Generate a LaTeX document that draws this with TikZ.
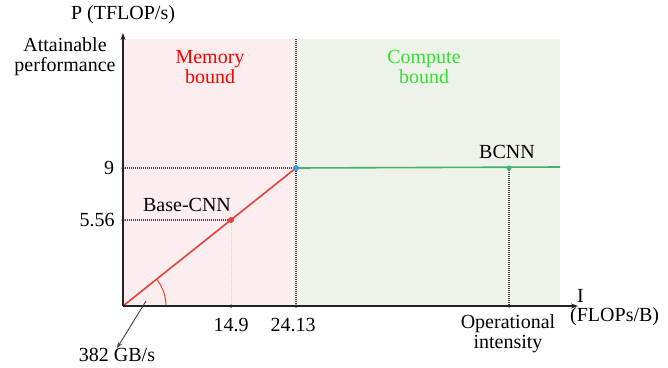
\documentclass[tikz,border=0pt]{standalone}
\usepackage{fontspec}
\setmainfont{Liberation Serif}
\usetikzlibrary{arrows.meta}
\definecolor{memfill}{HTML}{FCEEEE}
\definecolor{compfill}{HTML}{EDF3E8}
\definecolor{roofred}{HTML}{E8403A}
\definecolor{roofgreen}{HTML}{46B06A}
\definecolor{ptblue}{HTML}{3A9AD9}
\definecolor{txtgreen}{HTML}{33E033}
\definecolor{axisc}{HTML}{222222}
\tikzset{
  lbl/.style={font=\fontsize{20}{20}\selectfont, inner sep=0pt, align=center},
  axisline/.style={draw=axisc, line width=1.4pt, -{Stealth[length=7pt,width=5pt]}},
  guide/.style={draw=axisc!85, line width=1.2pt, dash pattern=on 1pt off 1pt},
  faint/.style={draw=gray!35, line width=0.6pt, dash pattern=on 1pt off 1pt},
  dotpt/.style={circle, inner sep=0pt, minimum size=6pt},
  tickdot/.style={circle, fill=axisc, inner sep=0pt, minimum size=3.5pt},
}
\begin{document}
\begin{tikzpicture}[x=1pt,y=-1pt]
\useasboundingbox (0,0) rectangle (668,367);
% regions
\fill[memfill] (123,39) rectangle (296,306);
\fill[compfill] (296,39) rectangle (560,306);
% coordinates
\coordinate (O) at (123,306);
\coordinate (ytop) at (123,33);
\coordinate (xend) at (578,306);
\coordinate (y9) at (123,168);
\coordinate (y556) at (123,220);
\coordinate (x149) at (231,306);
\coordinate (x2413) at (296,306);
\coordinate (xop) at (509,306);
\coordinate (vtop) at (296,39);
\coordinate (gend) at (560,167);
% guides
\draw[guide] (vtop) -- (x2413);
\draw[guide] (y9) -- (296,168);
\draw[guide] (y556) -- (231,220);
\draw[faint] (231,220) -- (x149);
\draw[guide] (509,168) -- (xop);
% roofline
\draw[roofgreen, line width=1.6pt] (296,168) -- (gend);
\draw[roofred, line width=1.6pt] (O) -- (296,168);
\draw[roofred, line width=1pt] (166,306) arc[start angle=0, end angle=-38.6, radius=43];
% axes
\draw[axisline] (O) -- (ytop);
\draw[axisline] (O) -- (xend);
% points
\node[dotpt, fill=ptblue] (knee) at (296,168) {};
\node[dotpt, fill=roofred] (base) at (231,220) {};
\node[dotpt, fill=roofgreen, minimum size=5pt] (bcnn) at (509,168) {};
% ticks
\node[tickdot] (t9) at (y9) {};
\node[tickdot] (t556) at (y556) {};
\node[tickdot] (t149) at (x149) {};
\node[tickdot] (t2413) at (x2413) {};
\node[tickdot] (top) at (xop) {};
% labels
\node[lbl] (ptitle) at (123,15) {P (TFLOP/s)};
\node[lbl] (attain) at (65,57) {Attainable\\performance};
\node[lbl, text=red] (mem) at (210,67) {Memory\\bound};
\node[lbl, text=txtgreen] (comp) at (424,67) {Compute\\bound};
\node[lbl] (l9) at (109,168) {9};
\node[lbl] (l556) at (97,220) {5.56};
\node[lbl] (lbase) at (187,205) {Base-CNN};
\node[lbl] (lbcnn) at (507,152) {BCNN};
\node[lbl] (l149) at (231,325) {14.9};
\node[lbl] (l2413) at (293,325) {24.13};
\node[lbl] (lop) at (508,334) {Operational\\intensity};
\node[lbl, anchor=west] (lI) at (577,296) {I};
\node[lbl, anchor=west] (lfl) at (570,317) {(FLOPs/B)};
\node[lbl] (lbw) at (117,355) {382 GB/s};
\coordinate (bwstart) at (146,301);
\draw[draw=axisc!85, line width=0.9pt, -{Stealth[length=6pt,width=4.5pt]}] (bwstart) -- (lbw.north -| 117,339);
\end{tikzpicture}
\end{document}
